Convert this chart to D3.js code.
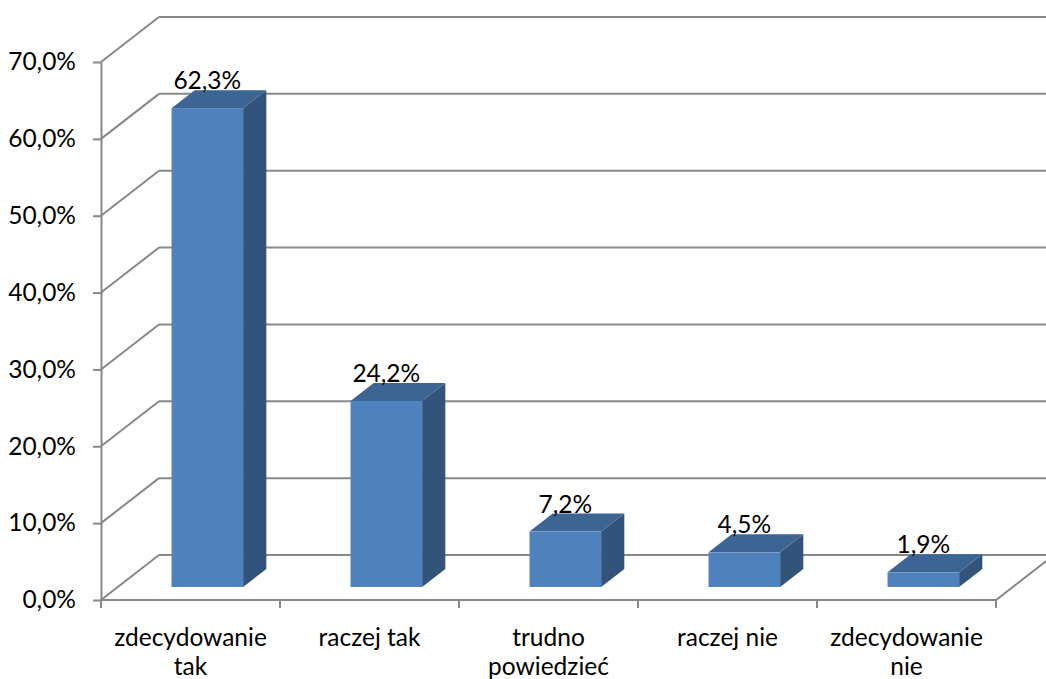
<!DOCTYPE html>
<html>
<head>
<meta charset="utf-8">
<script src="https://cdn.jsdelivr.net/npm/d3@7"></script>
<style>
  html, body { margin: 0; padding: 0; background: #fff; }
  svg { display: block; }
  text { font-family: Lato, "Open Sans", sans-serif; fill: #000; }
</style>
</head>
<body>
<svg id="chart" width="1046" height="679"></svg>
<script>
// Survey answers and their shares (%)
const categories = ["zdecydowanie tak", "raczej tak", "trudno powiedzieć", "raczej nie", "zdecydowanie nie"];
const values = [62.3, 24.2, 7.2, 4.5, 1.9];
const yTicks = [0, 10, 20, 30, 40, 50, 60, 70];

const fmt = v => v.toFixed(1).replace(".", ",") + "%";
const fontSize = "24.5px";

const svg = d3.select("#chart");

// Front plane of the 3D box and its depth offset
const plotLeft = 101, plotRight = 996, plotBase = 600, plotTop = 62;
const DX = 58, DY = 45;          // full depth of the plot box
const d0 = 0.29, d1 = 0.69;      // bar front / back depth fractions

const x = d3.scaleBand().domain(categories).range([plotLeft, plotRight])
  .paddingInner(0.6).paddingOuter(0.3);
const y = d3.scaleLinear().domain([0, 70]).range([plotBase, plotTop]);

const gridColor = "#888888";
const g = svg.append("g");

// Walls: left-wall diagonals and back-wall horizontal gridlines
yTicks.forEach(v => {
  const yf = y(v);
  g.append("line")
    .attr("x1", plotLeft).attr("y1", yf).attr("x2", plotLeft + DX).attr("y2", yf - DY)
    .attr("stroke", gridColor).attr("stroke-width", 2);
  g.append("line")
    .attr("x1", plotLeft + DX).attr("y1", yf - DY).attr("x2", plotRight + DX).attr("y2", yf - DY)
    .attr("stroke", gridColor).attr("stroke-width", 2);
});
// Floor: front edge and right edge
g.append("line")
  .attr("x1", plotLeft).attr("y1", plotBase).attr("x2", plotRight).attr("y2", plotBase)
  .attr("stroke", gridColor).attr("stroke-width", 2);
g.append("line")
  .attr("x1", plotRight).attr("y1", plotBase).attr("x2", plotRight + DX).attr("y2", plotBase - DY)
  .attr("stroke", gridColor).attr("stroke-width", 2);

// Category boundary ticks under the floor
d3.range(categories.length + 1).forEach(i => {
  const xt = plotLeft + i * x.step();
  g.append("line")
    .attr("x1", xt).attr("y1", plotBase).attr("x2", xt).attr("y2", plotBase + 8)
    .attr("stroke", gridColor).attr("stroke-width", 2);
});

// Value axis
const yAxis = d3.axisLeft(y).tickValues(yTicks).tickFormat(fmt)
  .tickSizeInner(8).tickSizeOuter(0).tickPadding(17);
const ax = svg.append("g").attr("transform", `translate(${plotLeft},0)`).call(yAxis);
ax.select(".domain").attr("stroke", gridColor).attr("stroke-width", 2);
ax.selectAll(".tick line").attr("stroke", gridColor).attr("stroke-width", 2);
ax.selectAll(".tick text").style("font-size", fontSize)
  .style("font-family", "Lato, 'Open Sans', sans-serif").attr("fill", "#000");

// Bars as boxes: front face, top and right side
const colFront = "#4F81BD", colTop = "#3C6594", colSide = "#33537B";
const bw = x.bandwidth();
const bdx = DX * (d1 - d0), bdy = DY * (d1 - d0);
const bars = svg.append("g");
categories.forEach((c, i) => {
  const v = values[i];
  const x0 = x(c) + DX * d0, x1 = x0 + bw;
  const yb = y(0) - DY * d0, yt = y(v) - DY * d0;
  bars.append("polygon")
    .attr("points", [[x1, yt], [x1 + bdx, yt - bdy], [x1 + bdx, yb - bdy], [x1, yb]].join(" "))
    .attr("fill", colSide);
  bars.append("polygon")
    .attr("points", [[x0, yt], [x0 + bdx, yt - bdy], [x1 + bdx, yt - bdy], [x1, yt]].join(" "))
    .attr("fill", colTop);
  bars.append("rect")
    .attr("x", x0).attr("y", yt).attr("width", bw).attr("height", yb - yt)
    .attr("fill", colFront);
  // value label above the bar
  bars.append("text")
    .attr("x", x0 + bw / 2).attr("y", yt - bdy - 1)
    .attr("text-anchor", "middle").style("font-size", fontSize)
    .text(fmt(v));
});

// Category labels, wrapped to the category width
const labels = svg.append("g");
categories.forEach(c => {
  const cx = x(c) + bw / 2;
  const t = labels.append("text").attr("text-anchor", "middle").style("font-size", fontSize);
  const words = c.split(" ");
  const lines = [];
  let cur = "";
  words.forEach(w => {
    const test = cur ? cur + " " + w : w;
    t.text(test);
    if (cur && t.node().getComputedTextLength() > x.step() - 12) {
      lines.push(cur); cur = w;
    } else cur = test;
  });
  lines.push(cur);
  t.text(null);
  lines.forEach((ln, k) => {
    t.append("tspan").attr("x", cx).attr("y", 646 + k * 29).text(ln);
  });
});
</script>
</body>
</html>
